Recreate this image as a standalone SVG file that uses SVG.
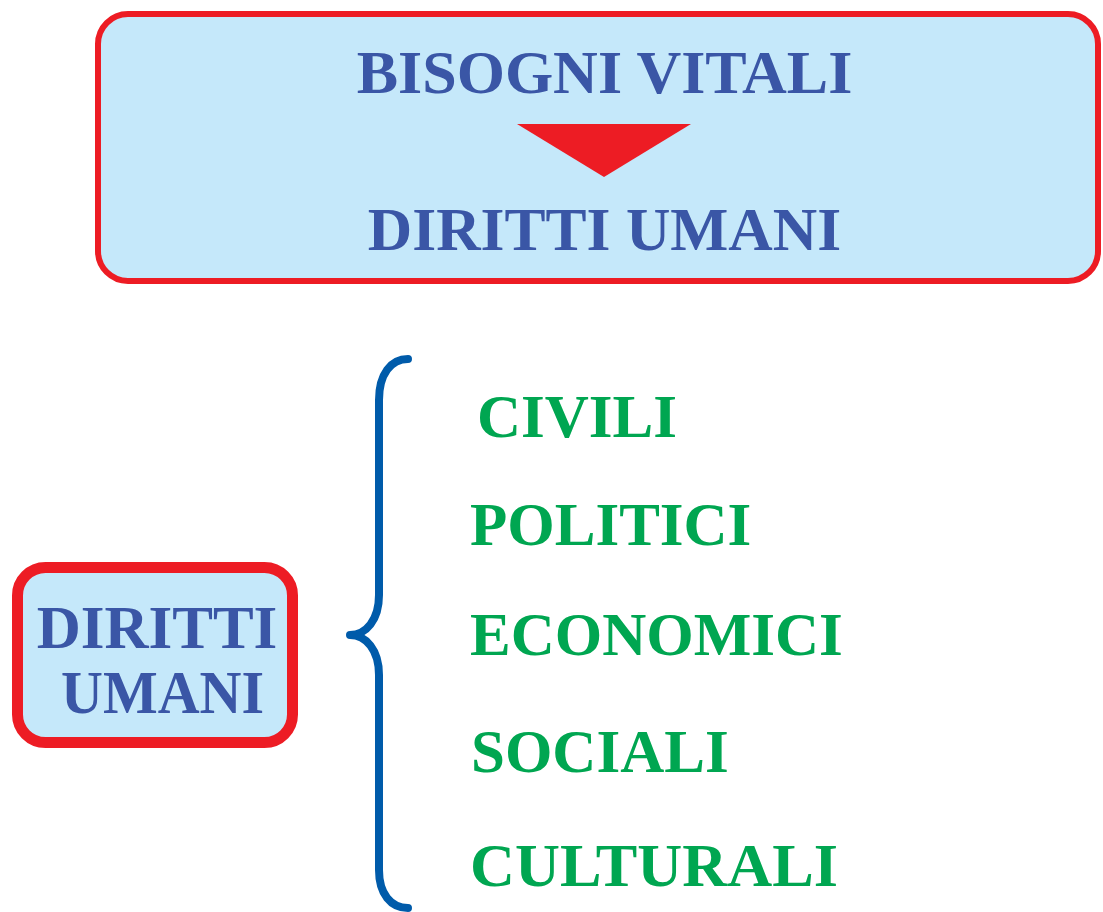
<svg xmlns="http://www.w3.org/2000/svg" width="1103" height="912" viewBox="0 0 1103 912">
  <style>
    .box { fill: #C5E8FA; stroke: #ED1C24; }
    .blue { font-family: "Liberation Serif", "Times New Roman", serif; font-weight: bold; font-size: 61px; fill: #3A56A6; }
    .green { font-family: "Liberation Serif", "Times New Roman", serif; font-weight: bold; font-size: 61px; fill: #00A651; }
  </style>
  <rect width="1103" height="912" fill="#FFFFFF"/>
  <g id="top-node">
    <rect class="box" x="98" y="14" width="1000" height="267" rx="30" ry="30" stroke-width="6"/>
    <text class="blue" x="604.5" y="93" text-anchor="middle" style="font-size:62px">BISOGNI VITALI</text>
    <polygon points="517,124 691,124 604,177" fill="#ED1C24"/>
    <text class="blue" x="604.5" y="250" text-anchor="middle" style="font-size:61.5px">DIRITTI UMANI</text>
  </g>
  <g id="left-node">
    <rect class="box" x="17.5" y="567.5" width="275" height="175" rx="28" ry="28" stroke-width="11"/>
    <text class="blue" x="157" y="648" text-anchor="middle">DIRITTI</text>
    <text class="blue" x="61" y="713" textLength="203" lengthAdjust="spacingAndGlyphs">UMANI</text>
  </g>
  <g id="connectors">
    <path d="M408,359 C391,359 379,374 379,400 L379,595 C379,620 366,635 350,635 C366,635 379,650 379,675 L379,870 C379,894 391,908 408,908" fill="none" stroke="#005BAA" stroke-width="8" stroke-linecap="round" stroke-linejoin="round"/>
  </g>
  <g id="item-civili"><text class="green" x="477" y="437">CIVILI</text></g>
  <g id="item-politici"><text class="green" x="470" y="545">POLITICI</text></g>
  <g id="item-economici"><text class="green" x="470" y="655">ECONOMICI</text></g>
  <g id="item-sociali"><text class="green" x="471" y="772">SOCIALI</text></g>
  <g id="item-culturali"><text class="green" x="470" y="886" textLength="368" lengthAdjust="spacingAndGlyphs">CULTURALI</text></g>
</svg>
